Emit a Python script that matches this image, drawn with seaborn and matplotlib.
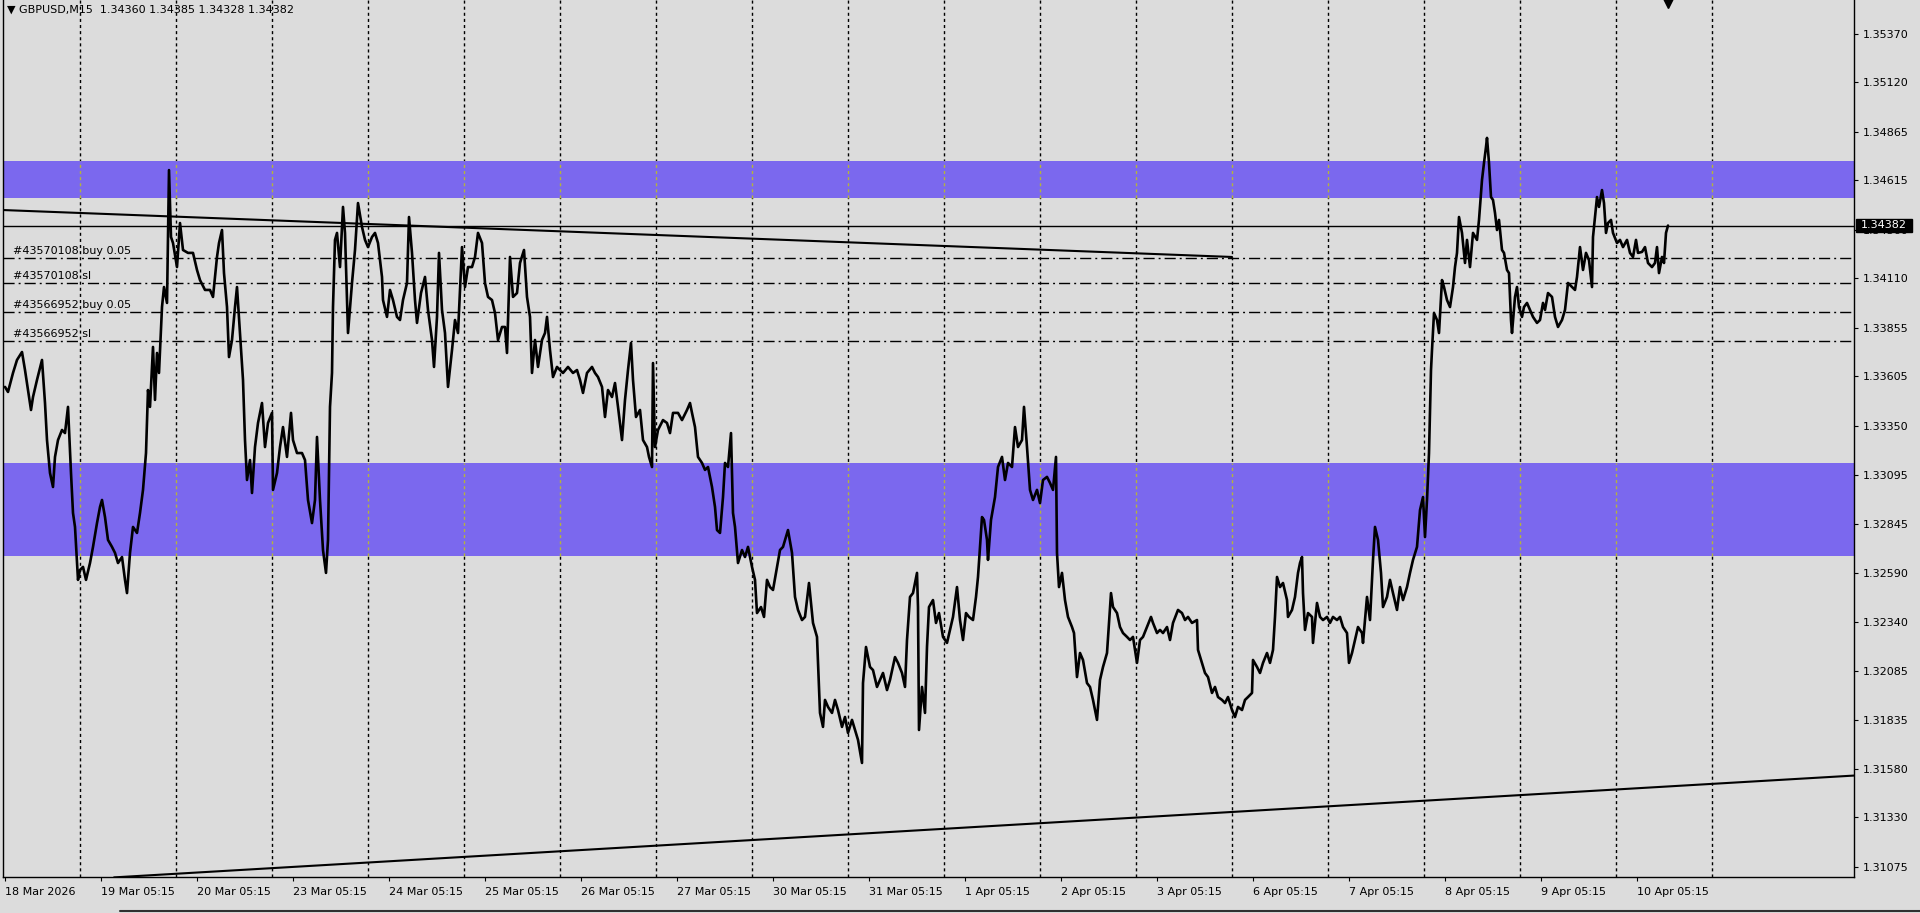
import numpy as np
import pandas as pd
import matplotlib
matplotlib.use("Agg")
import matplotlib.pyplot as plt
from matplotlib.patches import Rectangle
from matplotlib.lines import Line2D
import seaborn as sns

# GBPUSD M15, x = bar position from the left edge of the chart window (1 bar per pixel)
bar_pos = [
    5, 8, 13, 17, 22, 25, 28, 31, 33, 37,
    42, 45, 47, 50, 53, 55, 58, 62, 65, 68,
    71, 73, 75, 78, 80, 83, 86, 90, 93, 97,
    100, 102, 105, 108, 112, 115, 118, 122, 125, 127,
    130, 133, 137, 140, 143, 146, 148, 150, 153, 155,
    157, 159, 162, 164, 167, 168, 169, 171, 173, 177,
    180, 183, 188, 193, 197, 200, 205, 210, 213, 217,
    219, 222, 224, 227, 229, 232, 235, 237, 240, 243,
    245, 247, 250, 252, 255, 258, 262, 265, 268, 272,
    273, 277, 280, 283, 287, 291, 293, 297, 302, 305,
    308, 312, 315, 317, 320, 323, 326, 328, 330, 332,
    333, 335, 337, 340, 343, 345, 348, 352, 355, 358,
    362, 365, 368, 372, 375, 378, 382, 383, 387, 390,
    393, 397, 400, 403, 407, 409, 412, 415, 417, 421,
    425, 428, 432, 434, 437, 439, 442, 445, 448, 452,
    455, 458, 462, 465, 468, 472, 475, 478, 482, 485,
    488, 492, 495, 498, 502, 505, 507, 510, 513, 517,
    520, 524, 527, 530, 532, 535, 538, 542, 545, 547,
    550, 553, 557, 560, 563, 568, 573, 577, 580, 583,
    587, 592, 595, 598, 602, 605, 608, 612, 615, 618,
    622, 625, 628, 631, 633, 636, 640, 643, 647, 649,
    652, 653, 655, 658, 663, 667, 670, 673, 678, 682,
    687, 690, 692, 695, 698, 702, 705, 708, 712, 715,
    717, 720, 723, 725, 728, 731, 733, 735, 738, 742,
    745, 748, 752, 755, 757, 761, 764, 767, 770, 773,
    777, 780, 783, 788, 792, 795, 798, 802, 805, 809,
    813, 817, 818, 820, 823, 825, 828, 832, 835, 838,
    842, 845, 848, 852, 855, 858, 862, 863, 866, 870,
    873, 877, 880, 883, 887, 890, 895, 898, 902, 905,
    907, 910, 913, 917, 918, 919, 922, 925, 927, 929,
    933, 936, 939, 943, 947, 950, 953, 957, 960, 963,
    966, 969, 973, 976, 978, 982, 984, 987, 988, 991,
    995, 998, 1002, 1005, 1008, 1012, 1015, 1018, 1022, 1024,
    1027, 1030, 1033, 1037, 1040, 1043, 1047, 1050, 1053, 1056,
    1057, 1059, 1062, 1065, 1068, 1072, 1074, 1077, 1080, 1083,
    1087, 1090, 1093, 1097, 1100, 1103, 1107, 1111, 1113, 1117,
    1120, 1123, 1127, 1130, 1133, 1137, 1140, 1143, 1147, 1151,
    1153, 1157, 1160, 1163, 1167, 1170, 1173, 1178, 1182, 1185,
    1188, 1192, 1197, 1198, 1202, 1205, 1208, 1212, 1215, 1218,
    1222, 1225, 1228, 1232, 1235, 1238, 1242, 1245, 1248, 1252,
    1253, 1257, 1260, 1263, 1267, 1270, 1273, 1275, 1277, 1280,
    1283, 1287, 1288, 1292, 1295, 1298, 1300, 1302, 1303, 1305,
    1308, 1312, 1313, 1317, 1320, 1323, 1327, 1330, 1333, 1337,
    1340, 1343, 1347, 1349, 1352, 1355, 1358, 1362, 1363, 1367,
    1370, 1373, 1375, 1378, 1381, 1383, 1387, 1390, 1393, 1397,
    1400, 1403, 1407, 1410, 1413, 1417, 1420, 1423, 1425, 1427,
    1429, 1431, 1432, 1434, 1437, 1439, 1442, 1444, 1447, 1450,
    1453, 1455, 1457, 1459, 1462, 1465, 1467, 1470, 1473, 1477,
    1479, 1482, 1484, 1486, 1487, 1489, 1491, 1493, 1495, 1497,
    1499, 1502, 1504, 1507, 1509, 1511, 1512, 1515, 1517, 1519,
    1522, 1524, 1527, 1530, 1533, 1537, 1540, 1543, 1545, 1548,
    1552, 1555, 1558, 1562, 1565, 1568, 1572, 1575, 1577, 1580,
    1583, 1586, 1589, 1592, 1593, 1595, 1597, 1599, 1602, 1604,
    1606, 1608, 1611, 1613, 1617, 1620, 1623, 1627, 1630, 1633,
    1636, 1638, 1642, 1645, 1648, 1652, 1655, 1657, 1659, 1662,
    1664, 1666, 1668,
]
close = [
    1.33550, 1.33524, 1.33622, 1.33689, 1.33730, 1.33637, 1.33534, 1.33431, 1.33498, 1.33586,
    1.33689, 1.33467, 1.33276, 1.33106, 1.33034, 1.33189, 1.33276, 1.33328, 1.33312, 1.33447,
    1.33106, 1.32900, 1.32828, 1.32555, 1.32606, 1.32622, 1.32555, 1.32642, 1.32725, 1.32848,
    1.32931, 1.32967, 1.32879, 1.32761, 1.32725, 1.32694, 1.32642, 1.32673, 1.32555, 1.32487,
    1.32694, 1.32828, 1.32797, 1.32900, 1.33019, 1.33209, 1.33534, 1.33447, 1.33756, 1.33483,
    1.33725, 1.33622, 1.33962, 1.34065, 1.33983, 1.34308, 1.34668, 1.34323, 1.34292, 1.34168,
    1.34395, 1.34256, 1.34241, 1.34241, 1.34153, 1.34101, 1.34050, 1.34050, 1.34014, 1.34220,
    1.34292, 1.34359, 1.34137, 1.33962, 1.33704, 1.33792, 1.33962, 1.34065, 1.33828, 1.33586,
    1.33276, 1.33070, 1.33173, 1.33003, 1.33240, 1.33364, 1.33467, 1.33240, 1.33364, 1.33416,
    1.33019, 1.33106, 1.33240, 1.33343, 1.33189, 1.33416, 1.33276, 1.33209, 1.33209, 1.33173,
    1.32967, 1.32848, 1.32967, 1.33292, 1.32967, 1.32709, 1.32591, 1.32761, 1.33447, 1.33622,
    1.33962, 1.34308, 1.34344, 1.34168, 1.34478, 1.34344, 1.33828, 1.34086, 1.34256, 1.34498,
    1.34375, 1.34308, 1.34271, 1.34323, 1.34344, 1.34292, 1.34117, 1.33998, 1.33911, 1.34050,
    1.33998, 1.33911, 1.33895, 1.33998, 1.34086, 1.34426, 1.34241, 1.33998, 1.33880, 1.34034,
    1.34117, 1.33947, 1.33792, 1.33653, 1.33911, 1.34241, 1.33947, 1.33828, 1.33550, 1.33740,
    1.33895, 1.33828, 1.34271, 1.34065, 1.34168, 1.34168, 1.34220, 1.34344, 1.34292, 1.34086,
    1.34014, 1.33998, 1.33931, 1.33792, 1.33859, 1.33859, 1.33725, 1.34220, 1.34014, 1.34034,
    1.34189, 1.34256, 1.34014, 1.33911, 1.33622, 1.33792, 1.33653, 1.33792, 1.33828, 1.33911,
    1.33740, 1.33601, 1.33653, 1.33637, 1.33622, 1.33653, 1.33622, 1.33637, 1.33586, 1.33519,
    1.33622, 1.33653, 1.33622, 1.33601, 1.33550, 1.33395, 1.33534, 1.33498, 1.33570, 1.33447,
    1.33276, 1.33483, 1.33637, 1.33776, 1.33586, 1.33395, 1.33431, 1.33276, 1.33240, 1.33189,
    1.33137, 1.33673, 1.33240, 1.33328, 1.33379, 1.33364, 1.33312, 1.33416, 1.33416, 1.33379,
    1.33431, 1.33467, 1.33416, 1.33343, 1.33189, 1.33158, 1.33122, 1.33137, 1.33034, 1.32931,
    1.32812, 1.32797, 1.32982, 1.33158, 1.33137, 1.33312, 1.32900, 1.32828, 1.32642, 1.32709,
    1.32673, 1.32725, 1.32622, 1.32555, 1.32384, 1.32415, 1.32364, 1.32555, 1.32518, 1.32503,
    1.32622, 1.32709, 1.32725, 1.32812, 1.32694, 1.32467, 1.32400, 1.32348, 1.32364, 1.32539,
    1.32333, 1.32261, 1.32127, 1.31869, 1.31797, 1.31936, 1.31900, 1.31869, 1.31936, 1.31884,
    1.31797, 1.31848, 1.31766, 1.31833, 1.31781, 1.31730, 1.31611, 1.32023, 1.32209, 1.32106,
    1.32090, 1.32003, 1.32039, 1.32075, 1.31987, 1.32039, 1.32157, 1.32127, 1.32075, 1.32003,
    1.32245, 1.32467, 1.32487, 1.32591, 1.32415, 1.31781, 1.32003, 1.31869, 1.32209, 1.32415,
    1.32451, 1.32333, 1.32384, 1.32261, 1.32230, 1.32297, 1.32364, 1.32518, 1.32348, 1.32245,
    1.32384, 1.32364, 1.32348, 1.32467, 1.32570, 1.32879, 1.32864, 1.32761, 1.32658, 1.32864,
    1.32982, 1.33137, 1.33189, 1.33070, 1.33158, 1.33137, 1.33343, 1.33240, 1.33276, 1.33447,
    1.33240, 1.33019, 1.32967, 1.33019, 1.32951, 1.33070, 1.33086, 1.33055, 1.33019, 1.33189,
    1.32694, 1.32518, 1.32591, 1.32451, 1.32364, 1.32312, 1.32281, 1.32054, 1.32178, 1.32142,
    1.32023, 1.32003, 1.31936, 1.31833, 1.32039, 1.32106, 1.32178, 1.32487, 1.32415, 1.32384,
    1.32312, 1.32281, 1.32261, 1.32245, 1.32261, 1.32127, 1.32245, 1.32261, 1.32312, 1.32364,
    1.32333, 1.32281, 1.32297, 1.32281, 1.32312, 1.32245, 1.32333, 1.32400, 1.32384, 1.32348,
    1.32364, 1.32333, 1.32348, 1.32194, 1.32127, 1.32075, 1.32054, 1.31972, 1.32003, 1.31951,
    1.31936, 1.31920, 1.31951, 1.31884, 1.31848, 1.31900, 1.31884, 1.31936, 1.31951, 1.31972,
    1.32142, 1.32106, 1.32075, 1.32127, 1.32178, 1.32127, 1.32194, 1.32364, 1.32570, 1.32518,
    1.32539, 1.32451, 1.32364, 1.32400, 1.32467, 1.32591, 1.32642, 1.32673, 1.32487, 1.32297,
    1.32384, 1.32364, 1.32230, 1.32436, 1.32364, 1.32348, 1.32364, 1.32333, 1.32364, 1.32348,
    1.32364, 1.32312, 1.32281, 1.32127, 1.32178, 1.32245, 1.32312, 1.32281, 1.32230, 1.32467,
    1.32348, 1.32658, 1.32828, 1.32761, 1.32591, 1.32415, 1.32467, 1.32555, 1.32487, 1.32400,
    1.32518, 1.32451, 1.32518, 1.32591, 1.32658, 1.32725, 1.32915, 1.32982, 1.32776, 1.32967,
    1.33209, 1.33637, 1.33740, 1.33931, 1.33895, 1.33828, 1.34101, 1.34065, 1.33998, 1.33962,
    1.34065, 1.34168, 1.34241, 1.34426, 1.34344, 1.34189, 1.34308, 1.34168, 1.34344, 1.34308,
    1.34411, 1.34617, 1.34705, 1.34787, 1.34834, 1.34705, 1.34529, 1.34514, 1.34447, 1.34359,
    1.34411, 1.34256, 1.34241, 1.34153, 1.34137, 1.33895, 1.33828, 1.34014, 1.34065, 1.33962,
    1.33911, 1.33962, 1.33983, 1.33947, 1.33911, 1.33880, 1.33895, 1.33983, 1.33947, 1.34034,
    1.34014, 1.33911, 1.33859, 1.33895, 1.33947, 1.34086, 1.34065, 1.34050, 1.34117, 1.34271,
    1.34153, 1.34241, 1.34204, 1.34065, 1.34323, 1.34426, 1.34529, 1.34478, 1.34565, 1.34498,
    1.34344, 1.34395, 1.34411, 1.34344, 1.34292, 1.34308, 1.34271, 1.34308, 1.34241, 1.34220,
    1.34308, 1.34241, 1.34246, 1.34271, 1.34189, 1.34168, 1.34189, 1.34271, 1.34137, 1.34220,
    1.34189, 1.34344, 1.34382,
]

header = "\u25bc GBPUSD,M15  1.34360 1.34385 1.34328 1.34382"
last_price = 1.34382

date_ticks = [5, 101, 197, 293, 389, 485, 581, 677, 773, 869,
              965, 1061, 1157, 1253, 1349, 1445, 1541, 1637]
date_labels = ["18 Mar 2026", "19 Mar 05:15", "20 Mar 05:15", "23 Mar 05:15",
               "24 Mar 05:15", "25 Mar 05:15", "26 Mar 05:15", "27 Mar 05:15",
               "30 Mar 05:15", "31 Mar 05:15", "1 Apr 05:15", "2 Apr 05:15",
               "3 Apr 05:15", "6 Apr 05:15", "7 Apr 05:15", "8 Apr 05:15",
               "9 Apr 05:15", "10 Apr 05:15"]
day_grid = [80, 176, 272, 368, 464, 560, 656, 752, 848, 944,
            1040, 1136, 1232, 1328, 1424, 1520, 1616, 1712]
price_ticks = [1.35370, 1.35120, 1.34865, 1.34615, 1.34360, 1.34110, 1.33855,
               1.33605, 1.33350, 1.33095, 1.32845, 1.32590, 1.32340, 1.32085,
               1.31835, 1.31580, 1.31330, 1.31075]

zone_low = [1.34524, 1.32678]
zone_high = [1.34715, 1.33158]

order_names = ["#43570108 buy 0.05", "#43570108 sl", "#43566952 buy 0.05", "#43566952 sl"]
order_prices = [1.34215, 1.34086, 1.33936, 1.33787]

trend_down_x = [3, 1232]
trend_down_y = [1.34462, 1.34220]
trend_up_x = [114, 1854]
trend_up_y = [1.31021, 1.31546]

assert len(bar_pos) == len(close)

BG = "#dcdcdc"
ZONE = "#7b68ee"

sns.set_style("white")
plt.rcParams["font.family"] = ["DejaVu Sans"]

fig = plt.figure(figsize=(19.2, 9.13), dpi=100, facecolor=BG)
ax = fig.add_axes([3 / 1920, 36 / 913, 1851 / 1920, 877 / 913])
ax.set_facecolor(BG)

# day separators
for gx in day_grid:
    ax.axvline(gx, color="black", lw=1.0, ls=(0, (2.2, 2.2)), zorder=0.5)

# supply / demand zones
for lo, hi in zip(zone_low, zone_high):
    ax.axhspan(lo, hi, color=ZONE, lw=0, zorder=1)
    ax.vlines(day_grid, lo, hi, color="#b4b43c", lw=1.0, ls=(0, (2.2, 2.2)), zorder=1.2)

# open orders / stop losses
for name, p in zip(order_names, order_prices):
    ax.axhline(p, color="black", lw=1.0, ls=(0, (8, 2.9, 1.4, 2.9)), zorder=2)
    ax.annotate(name, xy=(13, p), xytext=(0, 4.8), textcoords="offset points",
                va="center", ha="left", fontsize=8, color="black", zorder=5)

# bid line
ax.axhline(last_price, color="black", lw=1.0, zorder=2)

# trend lines
ax.plot(trend_down_x, trend_down_y, color="black", lw=1.5, zorder=3)
ax.plot(trend_up_x, trend_up_y, color="black", lw=1.5, zorder=3)

# price
df = pd.DataFrame({"bar": bar_pos, "price": close})
sns.lineplot(data=df, x="bar", y="price", color="black", linewidth=1.9,
             estimator=None, sort=False, ax=ax, zorder=4)

ax.set_xlim(3, 1854)
ax.set_ylim(1.31023, 1.35545)
ax.set_xlabel("")
ax.set_ylabel("")

# shift marker
ax.plot([1668], [1.35530], marker="v", ms=7, color="black", clip_on=False, zorder=6)

ax.yaxis.tick_right()
ax.set_yticks(price_ticks)
ax.set_yticklabels([f"{p:.5f}" for p in price_ticks])
ax.set_xticks(date_ticks)
ax.set_xticklabels(date_labels)
for lab in ax.get_xticklabels():
    lab.set_horizontalalignment("left")
ax.tick_params(axis="y", which="both", direction="out", length=3, width=0.8,
               pad=3, labelsize=8, colors="black", right=True, left=False)
ax.tick_params(axis="x", direction="out", length=3, width=0.8, pad=4,
               labelsize=8, colors="black", bottom=True)

for side in ["left", "right", "bottom"]:
    ax.spines[side].set_visible(True)
    ax.spines[side].set_color("black")
    ax.spines[side].set_linewidth(1.0)
ax.spines["top"].set_visible(False)

# current price tag on the price scale
fig.add_artist(Rectangle((1856 / 1920, (913 - 232) / 913), 56 / 1920, 13 / 913,
                         transform=fig.transFigure, facecolor="black",
                         edgecolor="black", zorder=5))
fig.text(1861 / 1920, (913 - 225.5) / 913, f"{last_price:.5f}", color="white",
         fontsize=8, va="center", ha="left", zorder=6)

# symbol header
fig.text(7 / 1920, 1 - 10 / 913, header, fontsize=8, color="black",
         va="center", ha="left", zorder=6)

# window border at the bottom
fig.add_artist(Line2D([120 / 1920, 1.0], [2 / 913, 2 / 913], transform=fig.transFigure,
                      color="#303030", lw=1.5))

fig.savefig("out.png", dpi=100, facecolor=BG)
